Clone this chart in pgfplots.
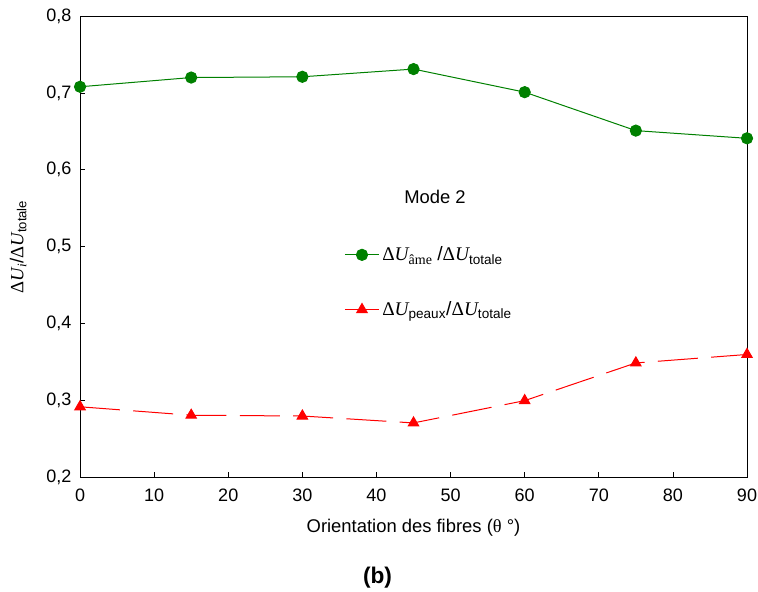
\documentclass[border=0pt]{standalone}
\usepackage{pgfplots}
\pgfplotsset{compat=1.18}
\usepackage{fontspec}
\setmainfont{Liberation Sans}
\newfontfamily\serif{Liberation Serif}
\usetikzlibrary{calc}
\definecolor{mgreen}{RGB}{0,128,0}
\begin{document}
\begin{tikzpicture}
\begin{axis}[
  name=ax,
  scale only axis,
  width=500pt, height=346pt,
  xmin=0, xmax=90, ymin=0.2, ymax=0.8,
  xtick={0,10,...,90},
  ytick={0.2,0.3,...,0.8},
  tick align=inside,
  xtick pos=bottom, ytick pos=left,
  major tick length=4pt,
  tick style={black, line width=0.6pt},
  axis line style={line width=0.7pt},
  /pgf/number format/assume math mode=true,
  yticklabel style={xshift=-3pt, /pgf/number format/use comma, /pgf/number format/fixed, /pgf/number format/fixed zerofill, /pgf/number format/precision=1},
  ticklabel style={font=\fontsize{13.5}{15}\selectfont},
  xticklabel style={yshift=-5pt},
  xlabel={Orientation des fibres ({\serif θ} °)},
  xlabel style={font=\fontsize{13.8}{16}\selectfont, yshift=-6pt},
  ylabel={{\serif Δ\itshape U\textsubscript{i}}/{\serif Δ\itshape U}\textsubscript{totale}},
  ylabel style={font=\fontsize{14}{16}\selectfont, yshift=8pt},
  legend style={at={(rel axis cs:0.39,0.512)}, anchor=north west, draw=none, fill=none,
    row sep=25pt, font=\fontsize{14.5}{16}\selectfont},
  legend cell align=left,
  legend image code/.code={\draw[mark repeat=2,mark phase=2,sharp plot] plot coordinates {(0cm,0cm) (0.45cm,0cm) (0.9cm,0cm)};},
]
\addplot[mgreen, line width=0.75pt, mark=*, mark size=4.2pt, mark options={solid, fill=mgreen}]
  coordinates {(0,0.708) (15,0.720) (30,0.721) (45,0.731) (60,0.701) (75,0.651) (90,0.641)};
\addlegendentry{{\serif Δ\itshape U}{\serif\fontsize{10.5}{12}\selectfont\raisebox{-3pt}{âme}} /{\serif Δ\itshape U}\textsubscript{totale}}
\addplot[red, line width=0.75pt, dash pattern=on 30pt off 10pt, mark=triangle*, mark size=4.5pt, mark options={solid, fill=red}]
  coordinates {(0,0.292) (15,0.281) (30,0.280) (45,0.271) (60,0.300) (75,0.349) (90,0.360)};
\addlegendentry{{\serif Δ\itshape U}\textsubscript{peaux}/{\serif Δ\itshape U}\textsubscript{totale}}
\node[font=\fontsize{13.8}{16}\selectfont] at (axis cs:47.9,0.565) {Mode 2};
\end{axis}
\node[font=\bfseries\fontsize{17}{19}\selectfont] at ($(ax.south west)+(223pt,-75pt)$) {(b)};
\pgfresetboundingbox
\path ($(ax.south west)+(-60pt,-85.5pt)$) rectangle ($(ax.north east)+(8.25pt,12pt)$);
\end{tikzpicture}
\end{document}
